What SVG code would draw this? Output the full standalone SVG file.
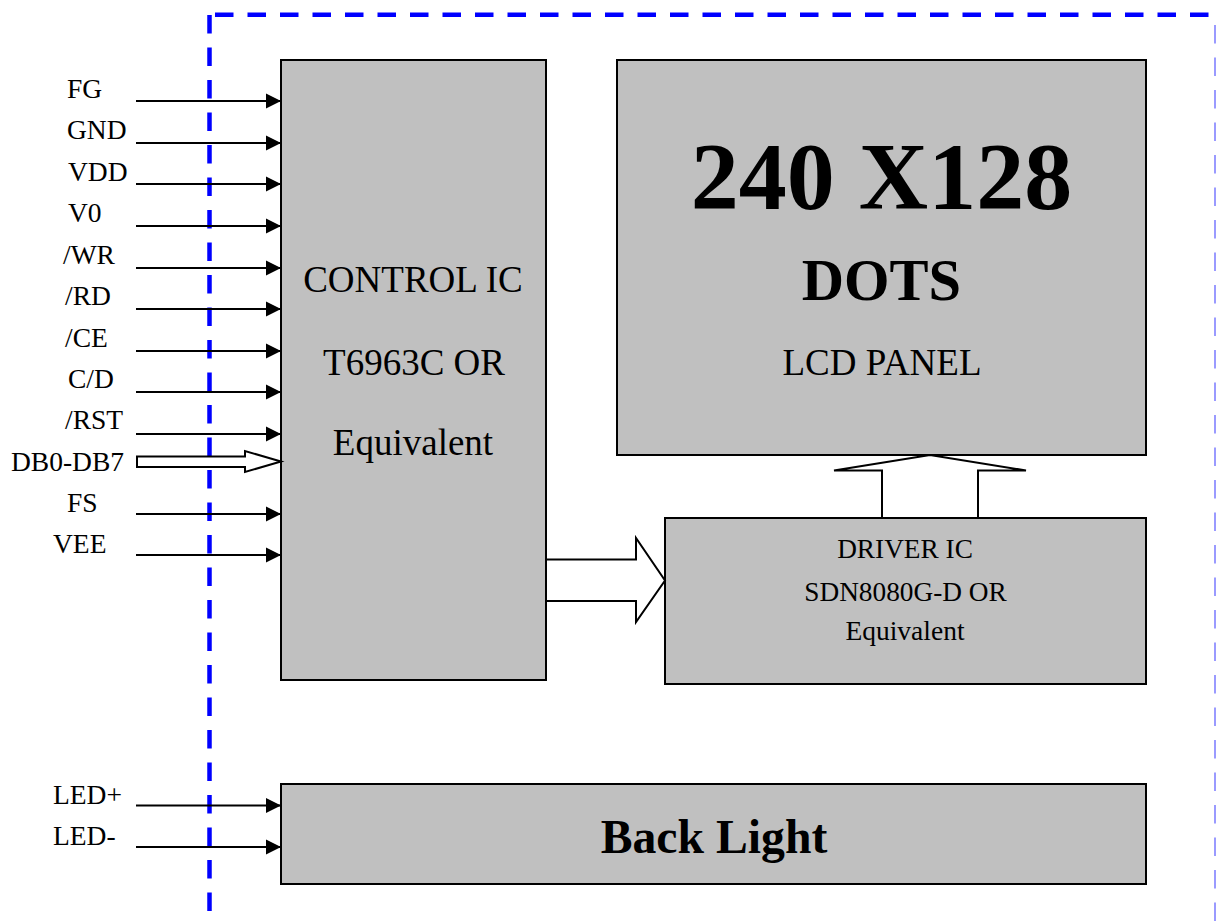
<svg xmlns="http://www.w3.org/2000/svg" width="1216" height="924" viewBox="0 0 1216 924">
<defs>
<style>
.box{fill:#c0c0c0;stroke:#000;stroke-width:2}
.t{font-family:"Liberation Serif","Times New Roman",serif;fill:#000}
.lbl{font-size:27.5px}
.mid{text-anchor:middle}
.b{font-weight:bold}
.w{stroke:#000;stroke-width:2;fill:none}
.hol{fill:#fff;stroke:#000;stroke-width:2;stroke-linejoin:miter}
.dash{stroke:#0000ff;stroke-width:4.5;stroke-dasharray:18.5 14;fill:none}
</style>
<marker id="ah" markerWidth="16" markerHeight="16" viewBox="0 0 16 16" refX="15" refY="8" orient="auto" markerUnits="userSpaceOnUse">
<path d="M0,0.5 L15,8 L0,15.5 Z" fill="#000"/>
</marker>
</defs>
<rect width="1216" height="924" fill="#fff"/>

<g id="border">
<line class="dash" x1="209.5" y1="15" x2="209.5" y2="914"/>
<line class="dash" x1="215" y1="14.7" x2="1216" y2="14.7"/>
<line x1="1215" y1="25" x2="1215" y2="924" stroke="#9a9aff" stroke-width="2" stroke-dasharray="18.5 14"/>
</g>

<g id="control-ic">
<rect class="box" x="281" y="60" width="265" height="620"/>
<text class="t mid" x="413" y="292" font-size="37">CONTROL IC</text>
<text class="t mid" x="414" y="375" font-size="37">T6963C OR</text>
<text class="t mid" x="413" y="455" font-size="37">Equivalent</text>
</g>

<g id="lcd-panel">
<rect class="box" x="617" y="60" width="529" height="395"/>
<text class="t mid b" x="881.5" y="209" font-size="96">240 X128</text>
<text class="t mid b" x="881.5" y="300" font-size="58.5">DOTS</text>
<text class="t mid" x="882" y="375" font-size="37">LCD PANEL</text>
</g>

<g id="driver-ic">
<rect class="box" x="665" y="518" width="481" height="166"/>
<text class="t mid" x="905" y="558" font-size="27.3">DRIVER IC</text>
<text class="t mid" x="905.5" y="601" font-size="27.3">SDN8080G-D OR</text>
<text class="t mid" x="905" y="640" font-size="27.5">Equivalent</text>
</g>

<g id="back-light">
<rect class="box" x="281" y="784" width="865" height="100"/>
<text class="t mid b" x="714" y="853" font-size="47.7">Back Light</text>
</g>

<g id="labels" class="t lbl">
<text x="67" y="98">FG</text>
<text x="67" y="139">GND</text>
<text x="68" y="181">VDD</text>
<text x="68" y="222">V0</text>
<text x="63" y="264">/WR</text>
<text x="65" y="305">/RD</text>
<text x="65" y="347">/CE</text>
<text x="68" y="388">C/D</text>
<text x="65" y="429">/RST</text>
<text x="11" y="471">DB0-DB7</text>
<text x="67" y="512">FS</text>
<text x="53" y="553">VEE</text>
<text x="53" y="804">LED+</text>
<text x="53" y="845">LED-</text>
</g>

<g id="connectors">
<line class="w" x1="136" y1="101" x2="281" y2="101" marker-end="url(#ah)"/>
<line class="w" x1="136" y1="143" x2="281" y2="143" marker-end="url(#ah)"/>
<line class="w" x1="136" y1="184" x2="281" y2="184" marker-end="url(#ah)"/>
<line class="w" x1="136" y1="226" x2="281" y2="226" marker-end="url(#ah)"/>
<line class="w" x1="136" y1="268" x2="281" y2="268" marker-end="url(#ah)"/>
<line class="w" x1="136" y1="309" x2="281" y2="309" marker-end="url(#ah)"/>
<line class="w" x1="136" y1="351" x2="281" y2="351" marker-end="url(#ah)"/>
<line class="w" x1="136" y1="392" x2="281" y2="392" marker-end="url(#ah)"/>
<line class="w" x1="136" y1="434" x2="281" y2="434" marker-end="url(#ah)"/>
<line class="w" x1="136" y1="514" x2="281" y2="514" marker-end="url(#ah)"/>
<line class="w" x1="136" y1="555" x2="281" y2="555" marker-end="url(#ah)"/>
<line class="w" x1="136" y1="805.5" x2="281" y2="805.5" marker-end="url(#ah)"/>
<line class="w" x1="136" y1="847" x2="281" y2="847" marker-end="url(#ah)"/>
<path class="hol" d="M137,456.5 L245,456.5 L245,451 L281,461.5 L245,472 L245,467 L137,467 Z"/>
<path class="hol" d="M547,559.5 L636,559.5 L636,538 L665,580.5 L636,622 L636,601 L547,601"/>
<path class="hol" d="M882,517 L882,470.5 L834,470.5 L930,455 L1026,470.5 L978,470.5 L978,517"/>
</g>
</svg>
